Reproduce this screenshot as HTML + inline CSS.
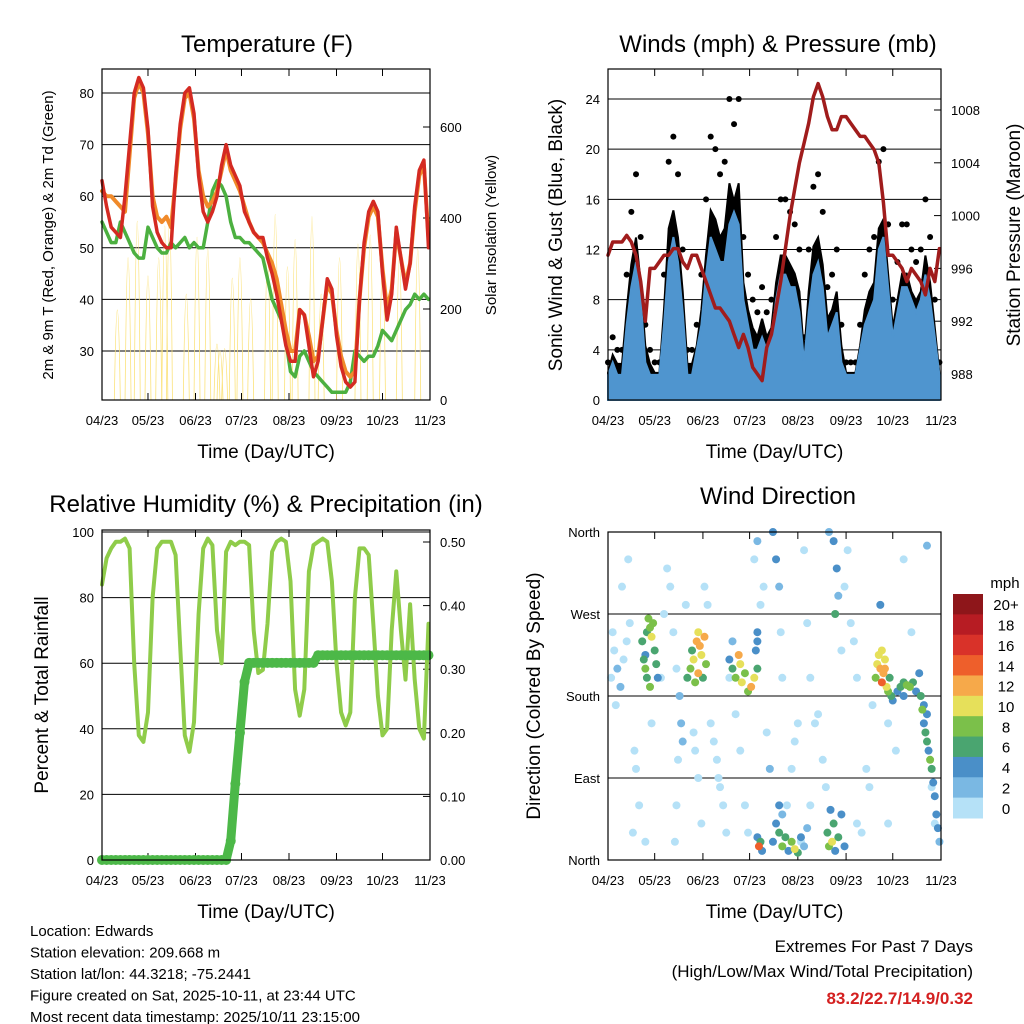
<!DOCTYPE html>
<html><head><meta charset="utf-8"><style>
html,body{margin:0;padding:0;background:#fff;}
svg{display:block;font-family:"Liberation Sans",sans-serif;}
</style></head><body>
<svg id="chart" width="1024" height="1024" viewBox="0 0 1024 1024" xmlns="http://www.w3.org/2000/svg"></svg>
<script>
// ---- DATA (3-day sampling from 04/23) ----
const monthTicks = ["04/23","05/23","06/23","07/23","08/23","09/23","10/23","11/23"];
const monthDays = [0,30,61,91,122,153,183,214];
const sampleStep = 3;
const tempRed = [63,58,54,53,52,60,70,80,83,81,73,58,53,51,50,50,64,74,80,81,76,64,57,55,57,60,66,70,66,64,62,57,55,53,52,52,48,45,41,36,31,28,28,38,37,31,25,28,36,44,42,33,27,24,23,24,40,51,57,59,57,45,36,41,54,48,42,47,58,65,67,50];
const tempOrange = [61,60,60,59,58,57,68,79,82,80,72,60,56,55,56,54,63,73,79,80,75,65,60,58,59,61,65,69,65,63,61,58,55,53,52,51,49,47,44,39,34,30,30,38,37,33,28,29,36,43,41,34,29,26,25,26,40,50,56,58,56,46,38,42,53,48,43,47,57,64,66,52];
const tempDew = [55,53,51,51,55,53,51,49,48,48,54,52,50,49,49,51,50,51,52,50,51,50,50,55,61,63,62,60,55,52,52,51,51,50,49,48,44,40,38,36,32,26,25,29,30,28,26,25,24,23,22,22,22,22,24,30,29,28,29,29,31,34,33,32,34,36,38,39,41,40,41,40];
const solarDays = [10,17,23,30,37,41,44,55,62,69,75,77,80,85,90,97,108,113,121,126,137,143,155,167,175,183,194,206];
const solarPeak = [330,560,720,480,560,700,730,400,650,600,180,150,160,470,560,380,560,750,520,640,740,400,560,620,660,520,560,600];
const gustMax = [3,5,4,4,10,15,18,13,6,4,3,3,10,19,21,18,12,4,4,6,10,16,21,20,18,19,24,22,24,13,10,8,7,9,7,8,13,16,16,15,14,12,5,12,17,18,15,9,10,12,6,3,3,3,6,10,12,13,19,20,14,8,11,14,14,12,11,12,16,13,8,3];
const windMax = [2,3,2,2,6,9,11,8,3,2,2,2,6,11,13,11,7,2,2,4,6,10,13,12,11,11,14,15,14,8,6,4,4,5,4,5,8,10,10,9,9,7,3,7,10,11,9,5,6,7,3,2,2,2,4,6,7,8,12,13,9,5,7,9,9,8,7,8,10,8,5,2];
const pressure = [997,998,998,998,998.5,998,997,995,992,996,996,996.5,997,997,997.5,997.5,996.5,996,997,997,996,995,994,993,993,992.5,992,991,990,991,990,988.5,988,987.5,990,991,993,995,997.5,1000,1002,1004,1005.5,1007,1009,1010,1009,1007.5,1006.5,1006.5,1007.5,1007.5,1007,1006.5,1006,1006,1005.5,1005,1004,1001,997,997,996.5,996,995,996,995.5,995,994,996,995,997.5];
const humidity = [84,92,95,97,97,98,95,60,38,36,45,80,95,97,97,97,93,65,38,33,42,75,95,98,96,70,60,94,97,96,97,97,96,70,57,58,72,94,97,98,97,85,52,44,52,88,96,97,98,97,85,60,45,41,45,80,95,95,93,72,50,38,40,70,88,70,55,78,55,40,37,72];
const rainfall = [0,0,0,0,0,0,0,0,0,0,0,0,0,0,0,0,0,0,0,0,0,0,0,0,0,0,0,0,0.03,0.12,0.2,0.28,0.31,0.31,0.31,0.31,0.31,0.31,0.31,0.31,0.31,0.31,0.31,0.31,0.31,0.31,0.31,0.322,0.322,0.322,0.322,0.322,0.322,0.322,0.322,0.322,0.322,0.322,0.322,0.322,0.322,0.322,0.322,0.322,0.322,0.322,0.322,0.322,0.322,0.322,0.322,0.322];
const dirDays = [2,4,6,3,8,5,10,12,14,9,13,17,18,20,16,24,28,34,36,38,40,42,44,46,47,48,45,44,43,50,55,56,58,60,62,64,66,68,70,71,72,74,76,78,80,82,85,88,90,94,96,98,100,102,104,106,108,110,111,112,115,118,120,122,124,126,128,130,133,135,138,140,142,145,147,148,146,150,152,154,156,158,160,160,163,166,168,170,175,180,185,190,195,205,208,210,180,130,
22,23,24,25,26,27,28,29,30,25,27,31,24,32,
51,53,55,57,58,59,60,62,63,56,61,54,58,
78,80,82,84,85,86,88,90,92,94,96,95,96,96,
172,173,174,175,176,177,178,179,180,181,182,183,176,178,
186,188,190,192,194,196,198,190,
200,201,202,203,204,205,206,207,208,209,210,211,212,213,205,203,
97,98,99,96,
106,108,110,112,114,116,118,120,122,124,126,128,110,112,
141,142,144,145,146,148,150,152,143];
const dirDeg = [200,230,210,250,190,170,220,240,260,300,330,120,100,60,30,20,150,200,270,320,300,250,210,180,150,130,110,60,20,280,140,120,90,40,300,280,150,130,110,90,80,60,30,200,240,160,120,60,30,330,350,280,300,140,100,360,330,300,250,200,60,100,130,150,20,340,260,200,150,160,110,80,360,350,320,290,270,230,300,340,260,240,200,40,30,100,80,170,280,150,120,330,250,345,80,40,40,60,
240,220,210,250,265,255,245,260,230,200,190,215,225,200,
200,210,220,240,250,235,225,245,215,195,200,230,205,
220,210,200,225,215,195,205,185,190,200,210,230,250,240,
200,215,225,210,195,205,220,190,185,200,180,175,230,210,
185,190,195,192,190,195,185,180,
205,180,165,150,140,130,120,110,100,85,70,50,35,20,160,170,
15,20,10,25,
20,40,30,15,25,10,20,12,8,25,15,35,60,50,
30,15,20,40,10,25,50,15,55];
const dirSpeed = [1,1,2,1,2,0,1,0,1,0,0,0,0,0,0,0,1,0,0,0,0,1,1,2,2,2,0,0,0,1,1,0,0,0,1,0,1,0,0,0,0,0,0,1,2,0,0,0,0,0,2,0,0,1,2,4,4,2,1,0,0,0,0,1,0,0,0,0,0,0,0,0,3,4,4,3,6,0,0,0,0,0,0,0,0,0,0,0,4,1,0,0,0,3,0,1,0,0,
6,6,8,7,8,9,10,8,6,7,8,6,4,4,
6,8,10,12,11,13,10,12,9,8,6,7,13,
4,6,8,12,11,10,8,8,12,10,6,4,4,5,
8,10,10,12,14,12,11,10,8,6,6,4,10,13,
4,6,6,8,8,6,4,4,
4,6,8,4,6,6,4,8,6,4,4,4,4,2,4,4,
14,6,4,4,
4,4,6,8,6,4,8,10,6,4,2,2,4,2,
6,8,10,6,4,6,4,4,4];
const speedLabels = ["20+","18","16","14","12","10","8","6","4","2","0"];
const speedColors = ["#8e161a","#b71c23","#d93229","#ee5f2b","#f6a94a","#e6e05a","#7bc04a","#4aa570","#4a8fc8","#7ab8e3","#b5e1f7"];

// ---- helpers ----
const NS="http://www.w3.org/2000/svg";
const svg=document.getElementById('chart');
function mk(tag,attrs,parent){const e=document.createElementNS(NS,tag);for(const k in attrs)e.setAttribute(k,attrs[k]);(parent||svg).appendChild(e);return e;}
function txt(s,x,y,size,anchor,parent,extra){const t=mk('text',Object.assign({x:x,y:y,'font-size':size,'text-anchor':anchor||'middle',fill:'#000'},extra||{}),parent);t.textContent=s;return t;}

const TOTAL=214;
function makeX(x0,x1){return d=>x0+d*(x1-x0)/TOTAL;}
function linear(v0,p0,v1,p1){return v=>p0+(v-v0)*(p1-p0)/(v1-v0);}

function panelFrame(name,x0,x1,y0,y1){
  const g=mk('g',{});
  
  
  const xs=makeX(x0,x1);
  monthDays.forEach((d,i)=>{
    const tk=mk('line',{x1:xs(d),x2:xs(d),y1:y1,y2:y1-7,stroke:'#000','stroke-width':1},g);
    
    
    const tk2=mk('line',{x1:xs(d),x2:xs(d),y1:y0,y2:y0+7,stroke:'#000','stroke-width':1},g);
    
    
    const l=txt(monthTicks[i],xs(d),y1+25,13,'middle',g);
    
    
  });
  const xt=txt('Time (Day/UTC)',(x0+x1)/2,y1+58,19,'middle',g);
  
  
  return {g,xs};
}
function box(g,x0,x1,y0,y1){
  const r=mk('rect',{x:x0,y:y0,width:x1-x0,height:y1-y0,fill:'none',stroke:'#000','stroke-width':1.2},g);
  
  
}
function hgrid(g,x0,x1,ys,vals,labels,side,name){
  vals.forEach((v,i)=>{
    const y=ys(v);
    if(side==='left'){
      const ln=mk('line',{x1:x0,x2:x1,y1:y,y2:y,stroke:'#000','stroke-width':1},g);
      
      
      const t=txt(labels[i],x0-8,y+5,13,'end',g);
      
      
    } else {
      const tk=mk('line',{x1:x1,x2:x1-7,y1:y,y2:y,stroke:'#000'},g);
      
      
      const t=txt(labels[i],x1+10,y+5,13,'start',g);
      
      
    }
  });
}
function vtitle(g,s,x,y,size,name){
  const t=txt(s,0,0,size,'middle',g,{transform:`translate(${x},${y}) rotate(-90)`});
  
  
}
function title(s,x,y,name){
  const t=txt(s,x,y,24,'middle');
  
  
}
function linePath(g,arr,xs,ys,color,w,name){
  const d=arr.map((v,i)=>(i?'L':'M')+xs(i*sampleStep).toFixed(1)+','+ys(v).toFixed(1)).join('');
  const p=mk('path',{d:d,fill:'none',stroke:color,'stroke-width':w,'stroke-linejoin':'round','stroke-linecap':'round'},g);
  
  
  return p;
}

// ===== Panel 1: Temperature =====
title('Temperature (F)',267,52,'temperature-title');
{
  const x0=102,x1=430,y0=69,y1=400;
  const P=panelFrame('temperature-panel',x0,x1,y0,y1);
  const ty=linear(30,351,80,93), sy=linear(0,400,600,127);
  hgrid(P.g,x0,x1,ty,[30,40,50,60,70,80],['30','40','50','60','70','80'],'left','temp-tick-label');
  hgrid(P.g,x0,x1,sy,[0,200,400,600],['0','200','400','600'],'right','solar-tick-label');
  solarDays.forEach((d,i)=>{
    const x=P.xs(d),top=sy(solarPeak[i]);
    const p=mk('path',{d:`M${x-3},${y1}Q${x},${top-30} ${x+3},${y1}`,fill:'none',stroke:'#fbe27a','stroke-width':0.8},P.g);
    
    
  });
  linePath(P.g,tempDew,P.xs,ty,'#4cb040',3.5,'dewpoint-line');
  linePath(P.g,tempOrange,P.xs,ty,'#f08a2a',4,'temp-9m-line');
  linePath(P.g,tempRed,P.xs,ty,'#d42a22',3.5,'temp-2m-line');
  box(P.g,x0,x1,y0,y1);
  vtitle(P.g,'2m & 9m T (Red, Orange) & 2m Td (Green)',53,235,15,'temp-y-axis-title');
  vtitle(P.g,'Solar Insolation (Yellow)',496,235,15,'solar-y-axis-title');
}

// ===== Panel 2: Winds =====
title('Winds (mph) & Pressure (mb)',778,52,'winds-title');
{
  const x0=608,x1=941,y0=69,y1=400;
  const P=panelFrame('winds-panel',x0,x1,y0,y1);
  const wy=linear(0,400,24,99), py=linear(988,374,1008,110);
  hgrid(P.g,x0,x1,wy,[0,4,8,12,16,20,24],['0','4','8','12','16','20','24'],'left','wind-tick-label');
  hgrid(P.g,x0,x1,py,[988,992,996,1000,1004,1008],['988','992','996','1000','1004','1008'],'right','pressure-tick-label');
  const area=(arr,color,name)=>{
    let d='M'+P.xs(0)+','+wy(0);
    arr.forEach((v,i)=>{d+='L'+P.xs(i*sampleStep).toFixed(1)+','+wy(v).toFixed(1);});
    d+='L'+P.xs((arr.length-1)*sampleStep)+','+wy(0)+'Z';
    const p=mk('path',{d:d,fill:color,stroke:color,'stroke-width':2},P.g);
    
    
  };
  area(gustMax.map(v=>v*0.72),'#000','gust-area');
  gustMax.forEach((v,i)=>{
    const c=mk('circle',{cx:P.xs(i*sampleStep),cy:wy(v),r:3,fill:'#000'},P.g);
    
    
  });
  area(windMax,'#4f95cf','sonic-wind-area');
  linePath(P.g,pressure,P.xs,py,'#a01c1c',3.5,'pressure-line');
  box(P.g,x0,x1,y0,y1);
  vtitle(P.g,'Sonic Wind & Gust (Blue, Black)',562,235,19,'wind-y-axis-title');
  vtitle(P.g,'Station Pressure (Maroon)',1020,235,19,'pressure-y-axis-title');
}

// ===== Panel 3: RH & Precip =====
title('Relative Humidity (%) & Precipitation (in)',266,512,'humidity-title');
{
  const x0=102,x1=430,y0=530,y1=860;
  const P=panelFrame('humidity-panel',x0,x1,y0,y1);
  const hy=linear(0,860,100,532), ry=linear(0,860,0.5,542);
  hgrid(P.g,x0,x1,hy,[0,20,40,60,80,100],['0','20','40','60','80','100'],'left','rh-tick-label');
  hgrid(P.g,x0,x1,ry,[0,0.1,0.2,0.3,0.4,0.5],['0.00','0.10','0.20','0.30','0.40','0.50'],'right','rain-tick-label');
  linePath(P.g,humidity,P.xs,hy,'#8fcc4a',4,'humidity-line');
  linePath(P.g,rainfall,P.xs,ry,'#4cb848',9,'rainfall-line');
  rainfall.forEach((v,i)=>{
    const c=mk('circle',{cx:P.xs(i*sampleStep),cy:ry(v),r:5,fill:'#4cb848'},P.g);
    
    
  });
  box(P.g,x0,x1,y0,y1);
  vtitle(P.g,'Percent & Total Rainfall',48,695,19,'rh-y-axis-title');
}

// ===== Panel 4: Wind Direction =====
title('Wind Direction',778,504,'wind-direction-title');
{
  const x0=608,x1=941,y0=532,y1=860;
  const P=panelFrame('wind-direction-panel',x0,x1,y0,y1);
  const dy=linear(0,860,360,532);
  hgrid(P.g,x0,x1,dy,[0,90,180,270,360],['North','East','South','West','North'],'left','direction-tick-label');
  const colorFor=s=>{let idx=10-Math.min(10,Math.floor(s/2));return speedColors[idx];};
  const order=dirSpeed.map((s,i)=>i).sort((a,b)=>dirSpeed[a]-dirSpeed[b]);
  order.forEach(i=>{
    const c=mk('circle',{cx:P.xs(dirDays[i]),cy:dy(dirDeg[i]),r:4,fill:colorFor(dirSpeed[i])},P.g);
    
    
  });
  box(P.g,x0,x1,y0,y1);
  vtitle(P.g,'Direction (Colored By Speed)',540,696,19,'direction-y-axis-title');
  const lg=mk('g',{});
  
  
  const mt=txt('mph',1005,588,15,'middle',lg);
  
  
  const h=224/speedColors.length;
  speedColors.forEach((c,i)=>{
    const r=mk('rect',{x:953,y:594+i*h,width:30,height:h+0.5,fill:c},lg);
    
    
    const t=txt(speedLabels[i],1006,594+i*h+h/2+6,15,'middle',lg);
    
    
  });
}

// ===== Footer =====
const info=["Location: Edwards","Station elevation: 209.668 m","Station lat/lon: 44.3218; -75.2441","Figure created on Sat, 2025-10-11, at 23:44 UTC","Most recent data timestamp: 2025/10/11 23:15:00"];
info.forEach((s,i)=>{
  const t=txt(s,30,936+i*21.5,15,'start');
  
  
});
const e1=txt('Extremes For Past 7 Days',973,952,17,'end');


const e2=txt('(High/Low/Max Wind/Total Precipitation)',973,977,17,'end');


const e3=txt('83.2/22.7/14.9/0.32',973,1004,17,'end',null,{fill:'#d42020','font-weight':'bold'});


</script>
</body></html>
